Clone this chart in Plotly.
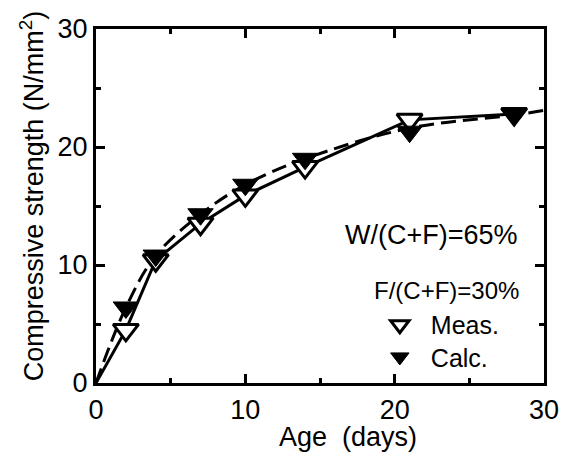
import plotly.graph_objects as go

# Data
age = [0, 2, 4, 7, 10, 14, 21, 28]
meas = [0, 4.5, 10.4, 13.5, 15.9, 18.3, 22.3, 22.8]
calc = [0, 6.4, 10.8, 14.3, 16.8, 19.0, 21.3, 22.7]
curve_age = [0, 2, 4, 7, 10, 14, 21, 28, 30]
curve_calc = [0, 6.4, 10.8, 14.3, 16.8, 19.0, 21.6, 22.7, 23.1]

xticks = [0, 10, 20, 30]
yticks = [0, 10, 20, 30]

FONT = "Liberation Sans, Arial, sans-serif"

fig = go.Figure()

# measured line (solid)
fig.add_trace(go.Scatter(x=age, y=meas, mode="lines",
                         line=dict(color="black", width=3),
                         showlegend=False, hoverinfo="skip"))
# calculated curve (dashed)
fig.add_trace(go.Scatter(x=curve_age, y=curve_calc, mode="lines",
                         line=dict(color="black", width=3, dash="15px,7px", shape="spline"),
                         showlegend=False, hoverinfo="skip"))
# markers
fig.add_trace(go.Scatter(x=age[1:], y=meas[1:], mode="markers", name="Meas.",
                         legend="legend",
                         marker=dict(symbol="triangle-down", size=22, color="white",
                                     line=dict(color="black", width=3))))
fig.add_trace(go.Scatter(x=age[1:], y=calc[1:], mode="markers", name="Calc.",
                         legend="legend2",
                         marker=dict(symbol="triangle-down", size=22, color="black",
                                     line=dict(color="black", width=1))))

axis_common = dict(
    showgrid=False, zeroline=False, showline=True, linecolor="black", linewidth=3,
    mirror="allticks", ticks="inside", ticklen=9, tickwidth=3, tickcolor="black",
    tickfont=dict(family=FONT, size=27, color="black"), automargin=False,
    minor=dict(ticks="inside", ticklen=5, tickwidth=3, tickcolor="black", dtick=5),
)

fig.update_xaxes(range=[0, 30], tickvals=xticks, ticktext=[str(v) for v in xticks],
                 ticklabelstandoff=1, **axis_common)
fig.update_yaxes(range=[0, 30], tickvals=yticks, ticktext=[str(v) for v in yticks],
                 ticklabelstandoff=0, **axis_common)

legend_common = dict(xanchor="left", yanchor="middle", bgcolor="rgba(0,0,0,0)",
                     font=dict(family=FONT, size=25), itemsizing="trace",
                     itemwidth=52)

fig.update_layout(
    width=568, height=453,
    margin=dict(l=96, r=24, t=29, b=70, autoexpand=False),
    paper_bgcolor="white", plot_bgcolor="white",
    font=dict(family=FONT, size=25, color="black"),
    legend=dict(x=0.609, y=0.164, **legend_common),
    legend2=dict(x=0.609, y=0.073, **legend_common),
    annotations=[
        dict(text="Compressive strength (N/mm<sup>2</sup>)", textangle=-90,
             xref="paper", yref="paper", x=-0.143, y=0.53,
             xanchor="center", yanchor="middle", showarrow=False,
             font=dict(family=FONT, size=27)),
        dict(text="Age  (days)", xref="paper", yref="paper", x=0.5625, y=-0.153,
             xanchor="center", yanchor="middle", showarrow=False,
             font=dict(family=FONT, size=27)),
        dict(text="W/(C+F)=65%", xref="paper", yref="paper", x=0.748, y=0.418,
             xanchor="center", yanchor="middle", showarrow=False,
             font=dict(family=FONT, size=27)),
        dict(text="F/(C+F)=30%", xref="paper", yref="paper", x=0.783, y=0.26,
             xanchor="center", yanchor="middle", showarrow=False,
             font=dict(family=FONT, size=24)),
    ],
)

fig.write_html("out.html", config={"displayModeBar": False},
               post_script="document.body.style.margin='0';document.body.style.overflow='hidden';")
